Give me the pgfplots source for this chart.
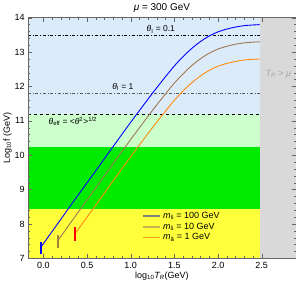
\documentclass[border=0pt]{standalone}
\usepackage{pgfplots}
\pgfplotsset{compat=1.18}
\usepackage{fontspec}
\setmainfont{Liberation Sans}
\definecolor{lblue}{RGB}{220,235,250}
\definecolor{lgreen}{RGB}{204,255,204}
\definecolor{dgreen}{RGB}{0,235,0}
\definecolor{yel}{RGB}{255,255,60}
\definecolor{gry}{RGB}{217,217,217}
\definecolor{brn}{RGB}{160,120,80}
\definecolor{orng}{RGB}{255,140,20}
\definecolor{tickbrn}{RGB}{170,130,60}
\begin{document}
\begin{tikzpicture}
\begin{axis}[
  scale only axis, width=268pt, height=241pt,
  xmin=-0.175, xmax=2.89, ymin=7, ymax=14,
  axis on top,
  xtick={0,0.5,1,1.5,2,2.5}, ytick={7,8,9,10,11,12,13,14},
  minor x tick num=4, minor y tick num=4,
  tick align=inside,
  major tick length=4pt, minor tick length=2pt,
  tick style={color=black!60, line width=0.4pt},
  axis line style={color=black!60, line width=0.5pt},
  x tick label style={/pgf/number format/.cd, fixed, fixed zerofill, precision=1, assume math mode=true},
  y tick label style={/pgf/number format/assume math mode=true},
  ticklabel style={font=\fontsize{9}{10}\selectfont},
  title={{\itshape μ} = 300 GeV},
  title style={font=\fontsize{10}{12}\selectfont, yshift=-4pt},
  xlabel={log\textsubscript{10}{\itshape T\textsubscript{R}}(GeV)},
  ylabel={Log\textsubscript{10}f (GeV)},
  label style={font=\fontsize{9}{10}\selectfont},
  xlabel style={yshift=3pt},
  ylabel style={yshift=-4pt},
  legend style={draw=none, fill=none, at={(0.415,0.21)}, anchor=north west, font=\fontsize{9}{10}\selectfont, row sep=-1pt},
  legend cell align=left,
]
% background regions
\addplot[draw=none, fill=lblue, forget plot] coordinates {(-0.175,11.2) (2.477,11.2) (2.477,14) (-0.175,14)} -- cycle;
\addplot[draw=none, fill=lgreen, forget plot] coordinates {(-0.175,10.24) (2.477,10.24) (2.477,11.2) (-0.175,11.2)} -- cycle;
\addplot[draw=none, fill=dgreen, forget plot] coordinates {(-0.175,8.45) (2.477,8.45) (2.477,10.24) (-0.175,10.24)} -- cycle;
\addplot[draw=none, fill=yel, forget plot] coordinates {(-0.175,7) (2.477,7) (2.477,8.45) (-0.175,8.45)} -- cycle;
\addplot[draw=none, fill=gry, forget plot] coordinates {(2.477,7) (2.89,7) (2.89,14) (2.477,14)} -- cycle;
% horizontal lines
\addplot[black, dash dot, line width=0.7pt, forget plot] coordinates {(-0.175,13.5) (2.477,13.5)};
\addplot[black!65, dash dot, line width=0.7pt, forget plot] coordinates {(-0.175,11.8) (2.477,11.8)};
\addplot[black, dashed, line width=0.7pt, forget plot] coordinates {(-0.175,11.2) (2.477,11.2)};
% curves
\addplot[blue, line width=0.9pt, smooth, forget plot] coordinates {(-0.03,7.32) (0,7.43) (0.2,8.14) (0.4,8.85) (0.6,9.55) (0.8,10.26) (1.0,10.96) (1.1,11.30) (1.2,11.64) (1.3,11.97) (1.4,12.29) (1.5,12.60) (1.6,12.87) (1.7,13.11) (1.8,13.31) (1.9,13.47) (2.0,13.59) (2.1,13.67) (2.2,13.73) (2.3,13.77) (2.4,13.79) (2.477,13.80)};
\addplot[brn, line width=0.9pt, smooth, forget plot] coordinates {(0.164,7.51) (0.2,7.64) (0.4,8.35) (0.6,9.05) (0.8,9.76) (1.0,10.46) (1.1,10.80) (1.2,11.14) (1.3,11.47) (1.4,11.79) (1.5,12.10) (1.6,12.37) (1.7,12.61) (1.8,12.81) (1.9,12.97) (2.0,13.09) (2.1,13.17) (2.2,13.23) (2.3,13.27) (2.4,13.29) (2.477,13.30)};
\addplot[orng, line width=0.9pt, smooth, forget plot] coordinates {(0.366,7.73) (0.4,7.85) (0.6,8.55) (0.8,9.26) (1.0,9.96) (1.1,10.30) (1.2,10.64) (1.3,10.97) (1.4,11.29) (1.5,11.60) (1.6,11.87) (1.7,12.11) (1.8,12.31) (1.9,12.47) (2.0,12.59) (2.1,12.67) (2.2,12.73) (2.3,12.77) (2.4,12.79) (2.477,12.80)};
% start markers
\addplot[blue, line width=1.8pt, forget plot] coordinates {(-0.03,7.14) (-0.03,7.48)};
\addplot[tickbrn, line width=1.8pt, forget plot] coordinates {(0.164,7.31) (0.164,7.69)};
\addplot[red, line width=1.8pt, forget plot] coordinates {(0.366,7.51) (0.366,7.90)};
% labels
\node[font=\fontsize{8.5}{10}\selectfont] at (axis cs:1.345,13.66) {{\itshape θ}\textsubscript{I} = 0.1};
\node[font=\fontsize{8.5}{10}\selectfont] at (axis cs:0.91,11.98) {{\itshape θ}\textsubscript{I} = 1};
\node[font=\fontsize{8.5}{10}\selectfont, anchor=west] at (axis cs:0.02,10.98) {{\itshape θ}\textsubscript{eff} = <{\itshape θ}\textsuperscript{2}>\textsuperscript{1/2}};
\node[font=\fontsize{9}{10}\selectfont, text=black!35] at (axis cs:2.69,12.37) {{\itshape T\textsubscript{R}} > {\itshape μ}};
% legend
\addlegendimage{line width=1.6pt, color={rgb,255:red,128;green,128;blue,128}}
\addlegendentry{{\itshape m}\textsubscript{\~{s}} = 100 GeV}
\addlegendimage{line width=1.6pt, color={rgb,255:red,200;green,175;blue,80}}
\addlegendentry{{\itshape m}\textsubscript{\~{s}} = 10 GeV}
\addlegendimage{line width=1.6pt, color={rgb,255:red,255;green,160;blue,30}}
\addlegendentry{{\itshape m}\textsubscript{\~{a}} = 1 GeV}
\end{axis}
\end{tikzpicture}
\end{document}
